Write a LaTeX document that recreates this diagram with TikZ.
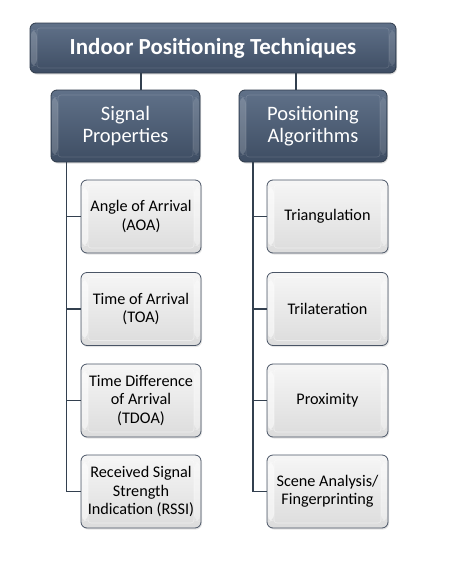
\documentclass[tikz,border=0pt]{standalone}
\usepackage{fontspec}
\setmainfont{Carlito}
\usetikzlibrary{shadows}
\definecolor{darktop}{HTML}{607189}
\definecolor{darkbot}{HTML}{3E4D63}
\definecolor{darkline}{HTML}{2F3B4B}
\definecolor{lighttop}{HTML}{F6F6F6}
\definecolor{lightbot}{HTML}{DCDCDC}
\definecolor{lightline}{HTML}{4A5566}
\definecolor{conn}{HTML}{33404F}
\tikzset{
  bevel/.style={path picture={
    \fill[white,opacity=#1] ([xshift=1pt,yshift=6pt]path picture bounding box.south west) -- ([xshift=7pt,yshift=8pt]path picture bounding box.south west) -- ([xshift=7pt,yshift=-8pt]path picture bounding box.north west) -- ([xshift=1pt,yshift=-6pt]path picture bounding box.north west) -- cycle;
    \fill[white,opacity=#1*0.7] ([xshift=-1pt,yshift=6pt]path picture bounding box.south east) -- ([xshift=-7pt,yshift=8pt]path picture bounding box.south east) -- ([xshift=-7pt,yshift=-8pt]path picture bounding box.north east) -- ([xshift=-1pt,yshift=-6pt]path picture bounding box.north east) -- cycle;
    \draw[white,opacity=#1*0.8,line width=0.6pt,rounded corners=3pt] ([xshift=7pt,yshift=-5pt]path picture bounding box.north west) rectangle ([xshift=-7pt,yshift=5pt]path picture bounding box.south east);
  }},
  topbox/.style={rounded corners=6pt, draw=darkline, line width=0.8pt,
    top color=darktop, bottom color=darkbot, text=white, align=center,
    inner sep=0pt, bevel=0.18,
    drop shadow={opacity=0.25,shadow xshift=1pt,shadow yshift=-1.5pt}},
  childbox/.style={rounded corners=6pt, draw=lightline, line width=0.8pt,
    top color=lighttop, bottom color=lightbot, text=black, align=center,
    inner sep=0pt, minimum width=120pt, minimum height=73pt, bevel=0.55,
    font=\fontsize{16.2}{18.5}\selectfont,
    drop shadow={opacity=0.2,shadow xshift=1pt,shadow yshift=-1.5pt}},
  conn/.style={draw=conn, line width=1.8pt}
}
\begin{document}
\begin{tikzpicture}[x=1pt,y=-1pt]
\useasboundingbox (0,0) rectangle (459,568);
\fill[white] (0,0) rectangle (459,568);
% top
\node[topbox, minimum width=366pt, minimum height=50pt,
  font=\fontsize{23}{25}\selectfont\bfseries] (top) at (213,48) {Indoor Positioning Techniques};
% second level
\node[topbox, minimum width=149pt, minimum height=72pt,
  font=\fontsize{20.5}{22}\selectfont] (sig) at (125.5,126) {Signal\\Properties};
\node[topbox, minimum width=148pt, minimum height=72pt,
  font=\fontsize{20.5}{22}\selectfont] (pos) at (313,126) {Positioning\\Algorithms};
% left children
\node[childbox] (l1) at (141,216.5) {Angle of Arrival\\(AOA)};
\node[childbox] (l2) at (141,309) {Time of Arrival\\(TOA)};
\node[childbox] (l3) at (141,400.5) {Time Difference\\of Arrival\\(TDOA)};
\node[childbox] (l4) at (141,491.5) {Received Signal\\Strength\\Indication (RSSI)};
% right children
\node[childbox, minimum width=121pt] (r1) at (327.5,216.5) {Triangulation};
\node[childbox, minimum width=121pt] (r2) at (327.5,309) {Trilateration};
\node[childbox, minimum width=121pt] (r3) at (327.5,400.5) {Proximity};
\node[childbox, minimum width=121pt] (r4) at (327.5,491.5) {Scene Analysis/\\Fingerprinting};
% connector x positions
\coordinate (ca) at (141,0);
\coordinate (cb) at (296,0);
\coordinate (lx) at (66.5,0);
\coordinate (rx) at (253,0);
% connectors
\draw[conn] (top.south -| ca) -- (sig.north -| ca);
\draw[conn] (top.south -| cb) -- (pos.north -| cb);
\draw[conn] (sig.south -| lx) |- (l4.west);
\draw[conn] (l1.west -| lx) -- (l1.west);
\draw[conn] (l2.west -| lx) -- (l2.west);
\draw[conn] (l3.west -| lx) -- (l3.west);
\draw[conn] (pos.south -| rx) |- (r4.west);
\draw[conn] (r1.west -| rx) -- (r1.west);
\draw[conn] (r2.west -| rx) -- (r2.west);
\draw[conn] (r3.west -| rx) -- (r3.west);
\end{tikzpicture}
\end{document}
